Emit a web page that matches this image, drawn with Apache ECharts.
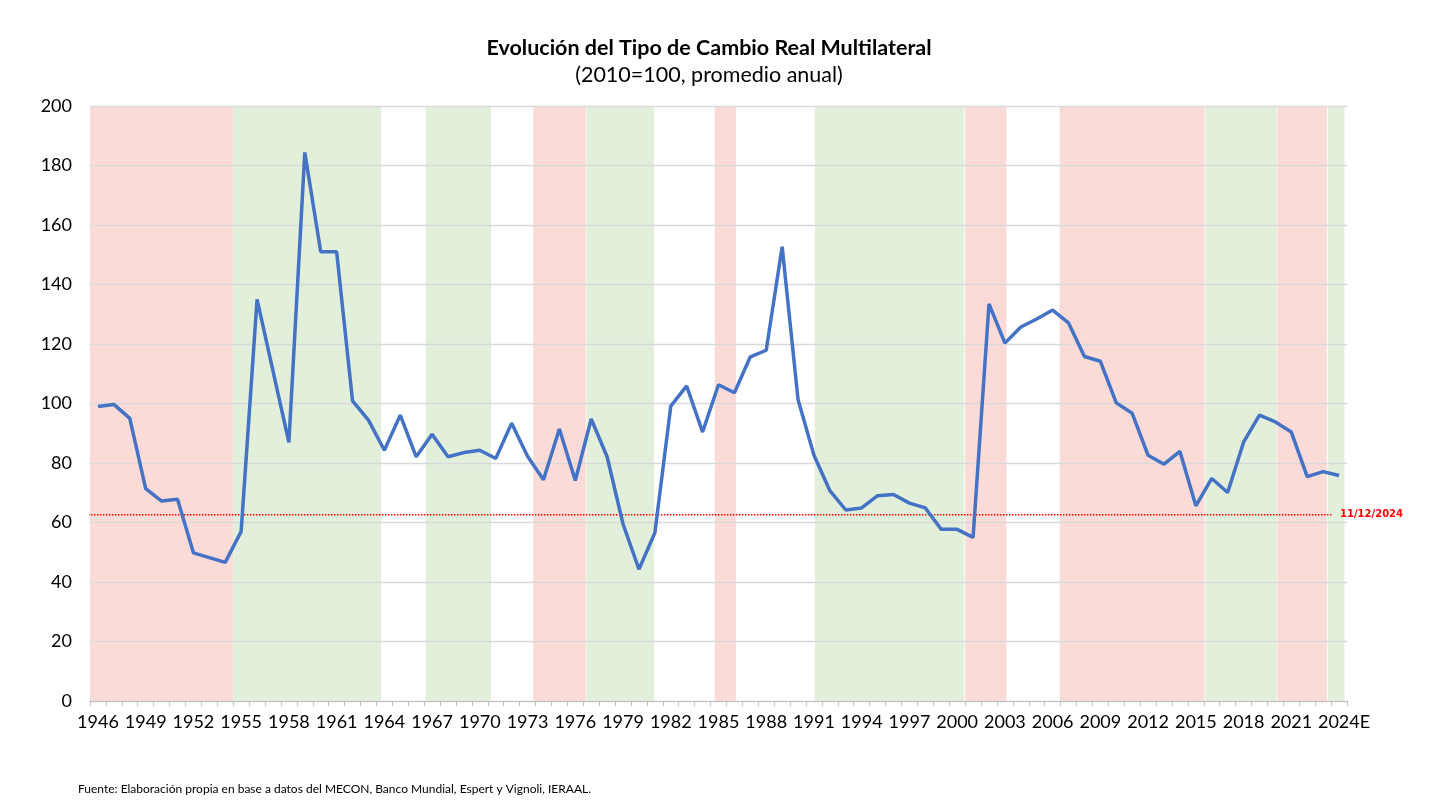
<!DOCTYPE html>
<html>
<head>
    <meta charset="utf-8">
    <title>Tipo de Cambio Real Multilateral</title>
    <script src="https://cdn.jsdelivr.net/npm/echarts@6/dist/echarts.min.js"></script>
    <style>
        html, body, #main {
            width: 100%;
            height: 100%;
            margin: 0;
            background: #fff;
        }
    </style>
</head>
<body>
    <div id="main"></div>
    <script type="text/javascript">
        // años (el último es estimado)
        var years = [];
        for (var y = 1946; y <= 2023; y++) years.push(String(y));
        years.push('2024E');

        // TCRM, 2010=100, promedio anual
        var tcrm = [
            99.0, 99.7, 95.0, 71.4, 67.2, 67.8, 49.8, 48.2, 46.6, 57.0,
            135.0, 111.0, 86.9, 184.4, 151.0, 151.0, 100.9, 94.4, 84.3, 96.1,
            82.1, 89.7, 82.1, 83.5, 84.3, 81.5, 93.4, 82.3, 74.4, 91.4,
            74.1, 94.8, 82.1, 59.5, 44.3, 56.5, 99.1, 105.9, 90.4, 106.3,
            103.6, 115.7, 117.9, 152.7, 101.3, 82.6, 70.7, 64.2, 64.9, 69.0,
            69.4, 66.5, 64.9, 57.7, 57.7, 55.0, 133.5, 120.3, 125.7, 128.4,
            131.4, 127.1, 115.8, 114.2, 100.2, 96.7, 82.6, 79.6, 83.9, 65.6,
            74.8, 70.1, 87.0, 96.1, 93.8, 90.4, 75.4, 77.1, 75.8
        ];

        // valor al 11/12/2024 (línea de referencia, en años sobre el eje)
        var tcrmHoy = 62.6;
        var tcrmHoyLabel = '11/12/2024';
        var tcrmHoyDesde = 1945.87;
        var tcrmHoyHasta = 2024.06;

        // periodos sombreados (en años; r = rojo, v = verde)
        var bandStart = [1946.0, 1955.0, 1967.1, 1973.86, 1977.2, 1985.26, 1991.55, 2001.0, 2006.94, 2016.1, 2020.62, 2023.8];
        var bandEnd   = [1955.0, 1964.3, 1971.2, 1977.16, 1981.46, 1986.59, 2000.95, 2003.6, 2016.05, 2020.58, 2023.74, 2024.84];
        var bandType  = ['r', 'v', 'v', 'r', 'v', 'r', 'v', 'r', 'r', 'v', 'r', 'v'];

        var bandColors = { r: '#FADBD8', v: '#E2EFDA' };

        var bands = bandStart.map(function (s, i) {
            return [s, bandEnd[i], bandType[i]];
        });

        var myChart = echarts.init(document.getElementById('main'));
        var font = 'Lato, "Open Sans", sans-serif';

        var option = {
            animation: false,
            backgroundColor: '#fff',
            title: [{
                text: 'Evolución del Tipo de Cambio Real Multilateral',
                left: 704,
                top: 32,
                textAlign: 'center',
                textStyle: { fontFamily: font, fontSize: 21.5, fontWeight: 'bold', color: '#000' }
            }, {
                text: '(2010=100, promedio anual)',
                left: 704,
                top: 59,
                textAlign: 'center',
                textStyle: { fontFamily: font, fontSize: 21.5, fontWeight: 'normal', color: '#000' }
            }, {
                text: 'Fuente: Elaboración propia en base a datos del MECON, Banco Mundial, Espert y Vignoli, IERAAL.',
                left: 73,
                top: 778,
                textStyle: { fontFamily: font, fontSize: 12, fontWeight: 'normal', color: '#000' }
            }],
            grid: {
                left: 90,
                right: 109,
                top: 106,
                bottom: 110
            },
            xAxis: [{
                type: 'category',
                data: years,
                boundaryGap: true,
                axisLine: { lineStyle: { color: '#BFBFBF', width: 1 } },
                axisTick: { show: true, interval: 0, length: 5, lineStyle: { color: '#BFBFBF' } },
                axisLabel: {
                    interval: 2,
                    margin: 12,
                    showMaxLabel: true,
                    hideOverlap: false,
                    fontFamily: font,
                    fontSize: 18,
                    color: '#000',
                    // el año estimado: "2024" centrado y la "E" a la derecha
                    formatter: function (v) {
                        return v === '2024E' ? '{e|' + v + '}' : v;
                    },
                    rich: {
                        e: { padding: [0, 0, 0, 10], fontFamily: font, fontSize: 18, color: '#000' }
                    }
                },
                splitLine: { show: false }
            }, {
                type: 'value',
                min: 1946,
                max: 2025,
                show: false
            }],
            yAxis: {
                type: 'value',
                min: 0,
                max: 200,
                interval: 20,
                axisLine: { show: false },
                axisTick: { show: false },
                axisLabel: { margin: 18, fontFamily: font, fontSize: 18, color: '#000' },
                splitLine: { lineStyle: { color: '#D9D9D9', width: 1.3 } }
            },
            series: [{
                name: 'periodos',
                type: 'custom',
                xAxisIndex: 1,
                z: -1,
                silent: true,
                data: bands,
                renderItem: function (params, api) {
                    var p1 = api.coord([api.value(0), 200]);
                    var p2 = api.coord([api.value(1), 0]);
                    var t = bands[params.dataIndex][2];
                    return {
                        type: 'rect',
                        shape: { x: p1[0], y: p1[1], width: p2[0] - p1[0], height: p2[1] - p1[1] },
                        style: { fill: bandColors[t] }
                    };
                }
            }, {
                name: 'hoy',
                type: 'line',
                xAxisIndex: 1,
                silent: true,
                symbol: 'none',
                z: 3,
                data: [[tcrmHoyDesde, tcrmHoy], [tcrmHoyHasta, tcrmHoy]],
                lineStyle: { color: '#FF0000', type: [1.5, 1.5], width: 1.3 },
                endLabel: {
                    show: true,
                    distance: 8,
                    formatter: tcrmHoyLabel,
                    fontFamily: '"DejaVu Sans", sans-serif',
                    fontWeight: 'bold',
                    fontSize: 10,
                    color: '#FF0000'
                }
            }, {
                name: 'TCRM',
                type: 'line',
                data: tcrm,
                symbol: 'none',
                z: 4,
                lineStyle: { color: '#4472C4', width: 3.5 }
            }]
        };

        myChart.setOption(option);
    </script>
</body>
</html>
